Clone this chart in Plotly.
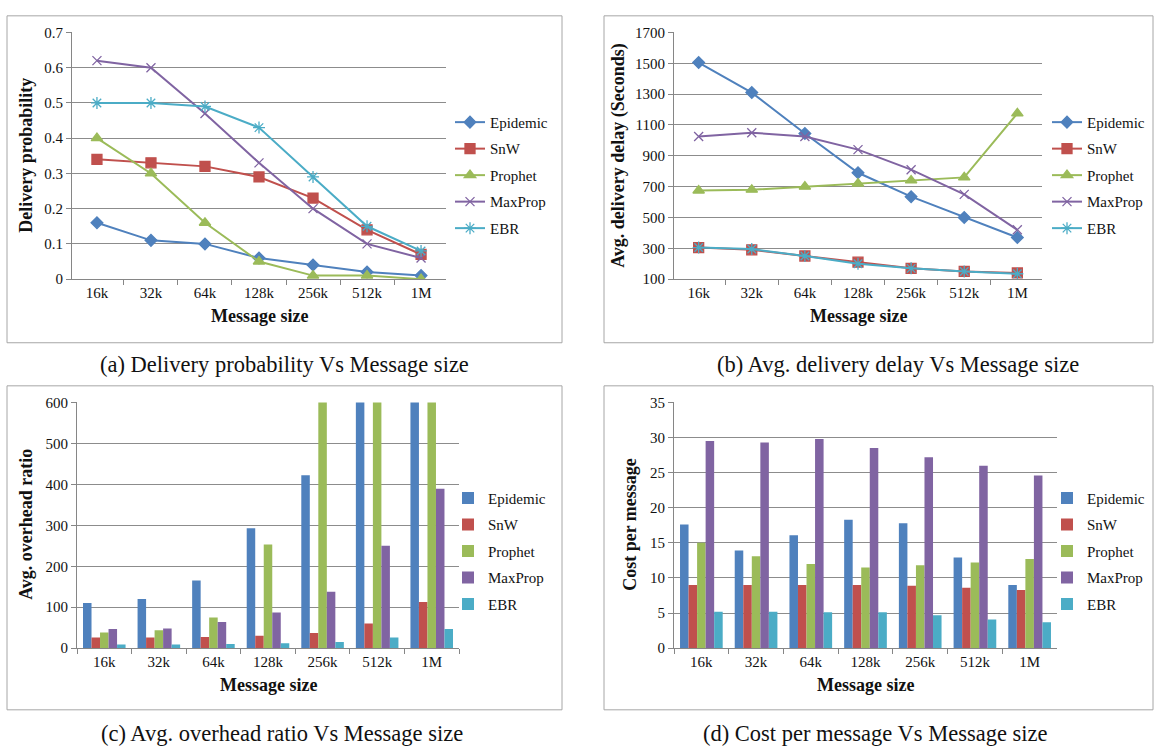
import plotly.graph_objects as go

# ---- categories and series --------------------------------------------------
sizes = ["16k", "32k", "64k", "128k", "256k", "512k", "1M"]
protocols = ["Epidemic", "SnW", "Prophet", "MaxProp", "EBR"]

# (a) delivery probability
prob_epidemic = [0.16, 0.11, 0.10, 0.06, 0.04, 0.02, 0.01]
prob_snw = [0.34, 0.33, 0.32, 0.29, 0.23, 0.14, 0.07]
prob_prophet = [0.40, 0.30, 0.16, 0.05, 0.01, 0.01, 0.00]
prob_maxprop = [0.62, 0.60, 0.47, 0.33, 0.20, 0.10, 0.06]
prob_ebr = [0.50, 0.50, 0.49, 0.43, 0.29, 0.15, 0.08]

# (b) average delivery delay in seconds
delay_epidemic = [1505, 1310, 1045, 790, 635, 500, 370]
delay_snw = [305, 290, 250, 210, 170, 150, 140]
delay_prophet = [675, 680, 700, 720, 740, 760, 1175]
delay_maxprop = [1025, 1050, 1025, 940, 810, 650, 420]
delay_ebr = [305, 295, 250, 200, 170, 150, 135]

# (c) average overhead ratio (axis is capped at 600)
overhead_epidemic = [110, 120, 165, 293, 422, 700, 900]
overhead_snw = [26, 26, 27, 30, 37, 60, 113]
overhead_prophet = [38, 44, 75, 253, 650, 800, 1000]
overhead_maxprop = [47, 48, 64, 87, 138, 250, 389]
overhead_ebr = [9, 9, 10, 12, 15, 26, 47]

# (d) cost per message
cost_epidemic = [17.6, 13.9, 16.1, 18.3, 17.8, 12.9, 9.0]
cost_snw = [9.0, 9.0, 9.0, 9.0, 8.9, 8.6, 8.3]
cost_prophet = [15.0, 13.1, 12.0, 11.5, 11.8, 12.2, 12.7]
cost_maxprop = [29.5, 29.3, 29.8, 28.5, 27.2, 26.0, 24.6]
cost_ebr = [5.2, 5.2, 5.1, 5.1, 4.7, 4.1, 3.7]

prob = [prob_epidemic, prob_snw, prob_prophet, prob_maxprop, prob_ebr]
delay = [delay_epidemic, delay_snw, delay_prophet, delay_maxprop, delay_ebr]
overhead = [overhead_epidemic, overhead_snw, overhead_prophet, overhead_maxprop, overhead_ebr]
cost = [cost_epidemic, cost_snw, cost_prophet, cost_maxprop, cost_ebr]

# ---- styling -----------------------------------------------------------------
W, H = 1155, 756
SERIF = "Liberation Serif"
COLORS = ["#4F81BD", "#C0504D", "#9BBB59", "#8064A2", "#4BACC6"]
SYMBOLS = ["diamond", "square", "triangle-up", "x-thin-open", "asterisk-open"]
MSIZES = [9, 10, 10, 9, 10]
AXIS = "#868686"
GRID = "#8c8c8c"
FRAME = "#a6a6a6"
INK = "#111111"


def px_x(x):
    return x / W


def px_y(y):
    return 1 - y / H


fig = go.Figure()

# line charts (a) and (b)
for n, data in ((1, prob), (2, delay)):
    for i, name in enumerate(protocols):
        fig.add_trace(go.Scatter(
            x=sizes, y=data[i], name=name, mode="lines+markers",
            xaxis=f"x{n}", yaxis=f"y{n}",
            legend="legend" if n == 1 else f"legend{n}",
            legendgroup=f"{n}-{name}",
            line=dict(color=COLORS[i], width=2),
            marker=dict(symbol=SYMBOLS[i], size=MSIZES[i], color=COLORS[i],
                        line=dict(color=COLORS[i], width=1.3)),
        ))

# bar charts (c) and (d)
for n, data in ((3, overhead), (4, cost)):
    for i, name in enumerate(protocols):
        fig.add_trace(go.Bar(
            x=sizes, y=data[i], name=name,
            xaxis=f"x{n}", yaxis=f"y{n}",
            legend=f"legend{n}", legendgroup=f"{n}-{name}",
            marker=dict(color=COLORS[i], line=dict(width=0)),
        ))

# plot-area positions in pixels: (left, right, top, bottom)
areas = {
    1: (72, 446, 25, 277),
    2: (674, 1042, 25, 277),
    3: (77, 459, 403, 654),
    4: (674, 1057, 403, 654),
}
yspec = {
    1: dict(range=[0, 0.7], dtick=0.1, tick0=0),
    2: dict(range=[100, 1700], dtick=200, tick0=100),
    3: dict(range=[0, 600], dtick=100, tick0=0),
    4: dict(range=[0, 35], dtick=5, tick0=0),
}
layout = {}
for n, (l, r, t, b) in areas.items():
    sfx = "" if n == 1 else str(n)
    layout[f"xaxis{sfx}"] = dict(
        domain=[px_x(l), px_x(r)], anchor=f"y{sfx}" if sfx else "y",
        type="category", tickson="boundaries", ticks="outside", ticklen=5,
        tickcolor=AXIS, showline=True, linecolor=AXIS, linewidth=1,
        showgrid=False, zeroline=False, fixedrange=True,
        tickfont=dict(family=SERIF, size=15, color=INK),
    )
    layout[f"yaxis{sfx}"] = dict(
        domain=[px_y(b), px_y(t)], anchor=f"x{sfx}" if sfx else "x",
        showgrid=True, gridcolor=GRID, gridwidth=1, showline=True,
        linecolor=AXIS, linewidth=1, ticks="outside", ticklen=5,
        tickcolor=AXIS, zeroline=False, fixedrange=True,
        tickfont=dict(family=SERIF, size=15, color=INK),
        **yspec[n],
    )

legend_pos = {1: (450, 100), 2: (1047, 100), 3: (448, 484), 4: (1047, 484)}
for n, (lx, ly) in legend_pos.items():
    key = "legend" if n == 1 else f"legend{n}"
    layout[key] = dict(
        x=px_x(lx), y=px_y(ly), xanchor="left", yanchor="top",
        font=dict(family=SERIF, size=15, color=INK),
        bgcolor="rgba(0,0,0,0)", traceorder="grouped", tracegroupgap=4,
    )

fig.update_layout(
    width=W, height=H, margin=dict(l=0, r=0, t=0, b=0),
    paper_bgcolor="white", plot_bgcolor="rgba(0,0,0,0)",
    barmode="group", bargap=0.22, bargroupgap=0,
    showlegend=True, font=dict(family=SERIF, color=INK), **layout,
)

annotations = []

# axis titles
ytitles = {
    1: ("Delivery probability", 26, 151),
    2: ("Avg. delivery delay (Seconds)", 619, 151),
    3: ("Avg. overhead ratio", 26, 528),
    4: ("Cost per message", 630, 528),
}
for n, (txt, x, y) in ytitles.items():
    annotations.append(dict(
        text=f"<b>{txt}</b>", x=px_x(x), y=px_y(y), xref="paper", yref="paper",
        textangle=-90, showarrow=False, xanchor="center", yanchor="middle",
        font=dict(family=SERIF, size=18, color=INK),
    ))
for n, (l, r, t, b) in areas.items():
    annotations.append(dict(
        text="<b>Message size</b>", x=px_x((l + r) / 2), y=px_y(b + 38),
        xref="paper", yref="paper", showarrow=False,
        xanchor="center", yanchor="middle",
        font=dict(family=SERIF, size=18, color=INK),
    ))

# panel captions
captions = [
    ("(a) Delivery probability Vs Message size", 284, 364),
    ("(b) Avg. delivery delay Vs Message size", 898, 364),
    ("(c) Avg. overhead ratio Vs Message size", 282, 741),
    ("(d) Cost per message Vs Message size", 875, 741),
]
for txt, x, y in captions:
    annotations.append(dict(
        text=txt, x=px_x(x), y=px_y(y), xref="paper", yref="paper",
        showarrow=False, xanchor="center", yanchor="middle",
        font=dict(family=SERIF, size=22.5, color=INK),
    ))
fig.update_layout(annotations=annotations)

# chart frames
frames = [(7, 562, 8, 342), (604, 1153, 8, 342), (7, 562, 386, 717), (604, 1153, 386, 717)]
for l, r, t, b in frames:
    fig.add_shape(type="rect", xref="paper", yref="paper",
                  x0=px_x(l), x1=px_x(r), y0=px_y(b), y1=px_y(t),
                  line=dict(color=FRAME, width=1), layer="below")

fig.write_html("out.html")
